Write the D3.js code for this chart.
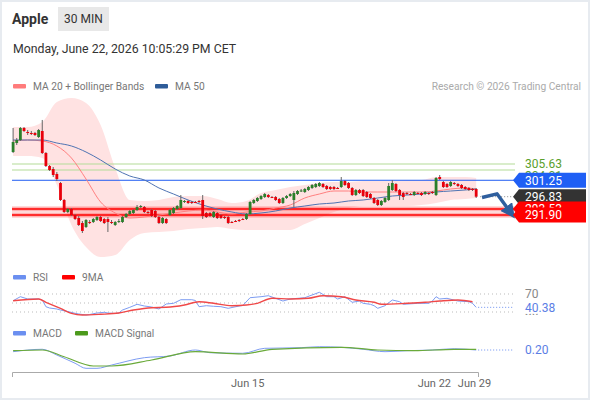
<!DOCTYPE html>
<html>
<head>
<meta charset="utf-8">
<script src="https://cdn.jsdelivr.net/npm/d3@7"></script>
<style>
  body { margin: 0; background: #fff; }
  text { font-family: Roboto, Arial, sans-serif; }
</style>
</head>
<body>
<svg id="chart" width="590" height="400"></svg>
<script>
// ---- data ----
// [open, high, low, close] per 30 min candle
const candles = [
  [308.86,315.32,308.59,311.55],[311.28,312.63,310.75,312.09],[312.09,315.59,311.82,315.32],[315.32,315.59,314.25,314.52],
  [314.25,314.78,313.44,313.98],[313.98,314.52,313.44,313.85],[313.98,314.25,313.17,313.44],[312.90,315.05,312.63,314.78],
  [314.52,317.48,308.32,308.59],[308.59,308.86,304.82,305.09],[305.09,305.36,303.75,304.01],[304.28,304.82,302.13,302.67],
  [302.94,303.48,301.05,301.59],[300.51,300.78,295.67,295.94],[295.94,296.21,292.44,292.71],[292.71,293.78,292.44,293.51],
  [293.51,293.78,291.63,291.90],[291.90,292.17,290.55,290.82],[291.09,291.63,288.94,289.21],[289.74,290.28,287.05,287.59],
  [288.67,290.82,288.40,290.55],[290.01,290.55,289.47,289.88],[290.01,291.09,289.74,290.82],[290.55,291.63,290.28,291.36],
  [291.36,291.63,290.01,290.28],[290.82,291.09,289.47,289.74],[290.82,291.36,287.32,290.01],[290.01,290.55,289.47,289.93],
  [289.21,290.28,288.94,290.01],[290.01,290.82,289.74,290.28],[290.01,291.63,289.74,291.36],[291.36,292.44,291.09,292.17],
  [292.17,293.24,291.90,292.98],[292.44,293.51,292.17,293.24],[293.24,294.59,292.98,294.05],[294.19,294.59,293.78,294.32],
  [294.05,294.32,292.44,292.71],[292.71,292.98,292.17,292.58],[293.24,293.51,291.36,291.63],[292.98,293.24,291.09,291.36],
  [291.36,291.63,289.47,289.74],[289.74,291.36,289.47,291.09],[290.82,291.09,289.47,289.74],[291.90,293.51,291.63,293.24],
  [292.44,294.05,292.17,293.78],[293.51,294.59,293.24,294.32],[293.78,297.28,293.51,295.94],[295.40,295.94,295.13,295.67],
  [295.67,295.94,294.86,295.13],[295.40,295.67,294.86,295.27],[295.40,295.67,295.13,295.30],[295.67,295.94,295.13,295.40],
  [295.94,297.28,290.82,291.63],[292.44,292.71,291.09,291.36],[292.44,292.71,291.36,291.63],[291.36,292.98,291.09,292.71],
  [292.44,292.71,290.82,291.09],[291.90,292.17,290.82,291.09],[291.36,291.63,290.82,291.09],[291.36,291.63,289.47,289.74],
  [290.01,290.28,289.74,289.88],[290.28,290.55,290.01,290.15],[290.55,290.82,290.01,290.42],[290.82,291.09,290.55,290.69],
  [290.82,292.44,290.55,292.17],[292.17,295.67,291.90,295.40],[295.13,296.21,294.86,295.94],[295.67,296.74,295.40,296.48],
  [296.21,297.28,295.94,297.01],[296.74,297.82,296.48,297.55],[297.28,297.55,296.48,296.74],[296.74,297.01,296.48,296.61],
  [296.74,297.01,295.67,295.94],[296.21,296.48,294.86,295.13],[295.13,296.74,294.86,296.48],[296.48,297.28,296.21,297.01],
  [297.01,297.82,296.74,297.55],[295.94,298.36,294.05,297.82],[297.55,298.63,297.28,298.36],[298.36,298.90,298.09,298.50],
  [298.09,299.17,297.82,298.90],[298.63,299.71,298.36,299.44],[299.17,300.24,298.90,299.98],[299.44,300.51,299.17,300.24],
  [299.71,300.78,299.44,300.51],[300.24,300.51,299.17,299.44],[299.71,299.98,298.63,298.90],[299.44,299.71,298.63,298.90],
  [299.44,299.71,298.63,298.90],[299.17,299.44,298.90,299.04],[299.44,302.13,299.17,301.05],[301.05,301.32,299.71,299.98],
  [300.51,300.78,298.90,299.17],[299.17,299.44,297.01,297.28],[297.28,298.90,297.01,298.63],[298.63,298.90,297.55,297.82],
  [298.63,298.90,296.74,297.01],[298.09,298.36,296.48,296.74],[297.55,297.82,296.21,296.48],[296.48,296.74,294.86,295.13],
  [295.94,296.21,294.32,294.59],[294.59,295.94,294.32,295.67],[295.40,296.74,295.13,296.48],[295.94,300.51,295.67,299.71],
  [298.63,301.32,298.36,300.51],[300.24,300.51,298.09,298.36],[298.63,298.90,295.94,297.28],[297.82,298.09,295.94,296.74],
  [297.82,298.09,297.28,297.69],[297.55,297.82,297.28,297.42],[297.28,298.36,297.01,298.09],[297.82,298.09,297.55,297.69],
  [297.82,298.09,297.01,297.28],[297.55,298.36,297.28,298.09],[297.82,298.09,297.28,297.69],[298.09,298.36,297.55,297.96],
  [297.28,302.13,297.01,301.86],[302.13,302.67,301.32,301.59],[300.78,301.05,299.17,299.44],[300.24,300.51,299.17,299.44],
  [299.71,301.05,299.44,300.78],[300.51,300.78,299.98,300.38],[300.24,300.51,299.44,299.71],[299.98,300.24,298.90,299.17],
  [299.44,299.71,298.63,298.90],[299.17,299.44,298.36,298.63],[298.90,299.17,298.36,298.63],[298.90,299.17,296.48,296.83]
];

// moving averages and bands, read every 4th candle
const maIdx   = [0,4,8,12,16,20,24,28,32,36,40,44,48,52,56,60,64,68,72,76,80,84,88,92,96,100,104,108,112,116,120,124,127];
const ma20    = [311.82,312.09,311.82,310.48,307.25,301.59,295.40,292.44,291.09,291.36,291.90,292.44,292.98,293.24,292.71,292.17,
                 292.71,292.98,293.78,294.59,296.48,297.55,298.36,298.36,298.09,298.09,298.09,298.09,298.09,298.36,298.90,299.17,298.90];
const ma50    = [312.09,312.09,312.09,311.28,310.48,308.86,306.71,304.28,302.40,301.32,299.17,297.55,295.94,294.59,293.51,292.71,
                 292.17,292.44,292.98,293.78,294.32,294.86,295.13,295.67,295.94,296.48,297.01,297.28,297.55,298.09,298.36,298.63,298.90];
const bbUpper = [315.59,315.59,316.94,322.32,323.40,322.05,316.13,304.55,295.94,295.67,295.94,296.74,297.01,297.01,296.21,295.13,
                 295.67,297.82,298.63,299.44,299.98,300.51,300.78,300.78,301.05,301.05,301.05,301.32,301.32,302.13,302.13,302.13,301.86];
const bbLower = [307.78,307.78,307.25,299.98,289.21,283.28,280.59,281.13,285.17,287.05,287.32,287.59,288.13,288.40,288.67,288.13,
                 287.86,287.86,287.86,287.86,289.47,291.09,292.71,293.78,294.32,294.32,294.32,294.32,294.59,295.13,295.94,296.21,296.48];

// key levels
const resistances = [305.63, 304.01];
const pivot = 301.25;
const lastPrice = 296.83;
const supports = [293.53, 291.90];
// projected path (candle index, price)
const projIdx = [128.6, 132.7, 136.2];
const projVal = [296.6, 297.6, 292.9];

// RSI and its 9 period average
const rsiIdx = [0,2,4,7,8,9,10,12,13,15,17,18,20,21,23,25,26,28,29,30,32,34,36,38,40,42,44,46,49,50,51,53,55,57,59,62,63,65,
                68,70,72,74,76,80,82,84,86,88,89,91,93,95,96,98,99,100,102,104,106,107,111,114,115,116,117,119,122,125,126,127];
const rsiVal = [55.1,64.0,58.9,58.9,56.7,41.8,38.9,36.7,34.4,31.1,27.1,25.6,23.3,24.4,27.8,29.3,27.8,26.7,27.8,34.4,40.4,47.1,43.3,
                41.1,36.7,47.8,49.3,57.3,57.3,55.6,41.8,44.0,42.7,41.8,38.2,43.3,44.4,61.8,64.0,66.2,60.4,54.4,58.9,61.8,67.8,73.8,
                64.0,64.0,58.9,64.0,51.6,54.4,49.3,47.1,44.0,38.2,44.0,56.7,52.9,47.1,49.3,49.3,54.4,64.0,58.9,60.4,54.4,52.9,49.3,40.38];
const rsiMaIdx = [0,7,9,13,16,19,24,29,33,38,42,47,51,55,60,64,67,71,76,81,85,90,94,99,101,108,113,117,122,126];
const rsiMaVal = [55.1,58.9,51.6,38.2,27.1,23.3,24.9,27.8,34.4,39.6,40.4,45.6,52.9,49.3,44.0,45.6,49.3,60.4,58.9,60.4,66.2,64.0,
                  56.7,51.6,47.1,49.3,51.6,54.4,56.7,52.9];
const rsiLevels = [70, 50, 30];

// MACD and signal
const macdIdx = [0,8,12,17,20,23,27,36,43,50,54,63,69,79,84,90,96,102,108,115,121,127];
const macdVal = [-0.01,0.29,-0.43,-1.46,-2.09,-2.09,-1.68,-0.76,-0.55,0.20,-0.14,-0.21,0.41,0.49,0.61,0.54,0.29,-0.01,0.11,0.20,0.36,0.20];
const signalIdx = [0,8,14,22,27,38,50,63,71,90,100,110,121,127];
const signalVal = [0.11,0.20,-0.64,-1.80,-1.80,-1.05,-0.01,-0.30,0.29,0.54,0.20,0.11,0.29,0.29];

const tickIdx = [64.2, 115.4, 126.4];
const tickLabels = ['Jun 15', 'Jun 22', 'Jun 29'];

// ---- drawing ----
const svg = d3.select('#chart');
svg.append('rect').attr('x', 1).attr('y', 1).attr('width', 588).attr('height', 398)
  .attr('fill', '#fff').attr('stroke', '#e7ebf0').attr('stroke-width', 2);

const x = d3.scaleLinear().domain([-0.3, 127.5]).range([12, 478]);
const yP = d3.scaleLinear().domain([291.90, 305.63]).range([215, 164]);
const yR = d3.scaleLinear().domain([30, 70]).range([312, 294]);
const yM = d3.scaleLinear().domain([-2.5, 1]).range([371.6, 343.6]);
const tagX = 513;

// header
svg.append('text').attr('x', 12).attr('y', 24).text('Apple')
  .attr('font-size', 14).attr('font-weight', 'bold').attr('fill', '#333');
svg.append('rect').attr('x', 58).attr('y', 7).attr('width', 51).attr('height', 24).attr('fill', '#e8e8e8');
svg.append('text').attr('x', 83.5).attr('y', 23).attr('text-anchor', 'middle').text('30 MIN')
  .attr('font-size', 12).attr('fill', '#333');
svg.append('text').attr('x', 13).attr('y', 53).text('Monday, June 22, 2026 10:05:29 PM CET')
  .attr('font-size', 12.3).attr('fill', '#333');

function legend(items, y) {
  items.forEach(it => {
    svg.append('rect').attr('x', it.x).attr('y', y - 6).attr('width', 13).attr('height', 4.5)
      .attr('rx', 1).attr('fill', it.color);
    svg.append('text').attr('x', it.x + 20).attr('y', y).text(it.label)
      .attr('font-size', 10.2).attr('fill', '#777');
  });
}
legend([{x: 13, color: '#ff7b7b', label: 'MA 20 + Bollinger Bands'},
        {x: 155, color: '#2e5c99', label: 'MA 50'}], 90);
svg.append('text').attr('x', 581).attr('y', 90).attr('text-anchor', 'end')
  .text('Research \u00a9 2026 Trading Central').attr('font-size', 10.2).attr('fill', '#aaa');

// bollinger band
const band = d3.area()
  .x((d, i) => x(maIdx[i]))
  .y0((d, i) => yP(bbLower[i]))
  .y1((d, i) => yP(bbUpper[i]))
  .curve(d3.curveMonotoneX);
svg.append('path').datum(maIdx).attr('d', band).attr('fill', '#ffe2e2');

// levels
const levelLine = (v, color, w) => svg.append('line')
  .attr('x1', x(-0.3)).attr('x2', tagX + 2).attr('y1', yP(v)).attr('y2', yP(v))
  .attr('stroke', color).attr('stroke-width', w);
resistances.forEach(v => levelLine(v, '#b3dc98', 1.2));
levelLine(pivot, '#1f5cf2', 1);
supports.forEach(v => { levelLine(v, 'rgba(255,0,0,0.3)', 5); levelLine(v, '#ff0000', 1.6); });

// moving averages
const maLine = arr => d3.line().x((d, i) => x(maIdx[i])).y((d, i) => yP(arr[i])).curve(d3.curveMonotoneX);
svg.append('path').datum(maIdx).attr('d', maLine(ma20)).attr('fill', 'none').attr('stroke', '#ff8080').attr('stroke-width', 1);
svg.append('path').datum(maIdx).attr('d', maLine(ma50)).attr('fill', 'none').attr('stroke', '#4f74b3').attr('stroke-width', 1);

// candles
const up = '#2b7f2b', down = '#e8000b';
const cg = svg.append('g');
cg.selectAll('line').data(candles).join('line')
  .attr('x1', (d, i) => x(i)).attr('x2', (d, i) => x(i))
  .attr('y1', d => yP(d[1])).attr('y2', d => yP(d[2]))
  .attr('stroke', '#666').attr('stroke-width', 1);
cg.selectAll('rect').data(candles).join('rect')
  .attr('x', (d, i) => x(i) - 1.4).attr('width', 2.8)
  .attr('y', d => yP(Math.max(d[0], d[3])))
  .attr('height', d => Math.max(1, Math.abs(yP(d[0]) - yP(d[3]))))
  .attr('fill', d => d[3] >= d[0] ? up : down);

// last price dotted line
svg.append('line').attr('x1', x(127) + 4).attr('x2', tagX).attr('y1', yP(lastPrice)).attr('y2', yP(lastPrice))
  .attr('stroke', '#888').attr('stroke-dasharray', '1,2');

// projection arrow
svg.append('defs').append('marker').attr('id', 'head').attr('viewBox', '0 0 10 10')
  .attr('refX', 4).attr('refY', 5).attr('markerWidth', 4.2).attr('markerHeight', 4.2)
  .attr('orient', 'auto').append('path').attr('d', 'M0,0 L10,5 L0,10 Z').attr('fill', '#2f5f9e');
svg.append('path').datum(projIdx)
  .attr('d', d3.line().x((d, i) => x(projIdx[i])).y((d, i) => yP(projVal[i])))
  .attr('fill', 'none').attr('stroke', '#2f5f9e').attr('stroke-width', 3.5)
  .attr('stroke-linejoin', 'round').attr('marker-end', 'url(#head)');

// price tags
function tag(v, fill, color, label, shift = 0) {
  const y = yP(v);
  if (fill) {
    svg.append('path').attr('d', `M${tagX},${y} L${tagX + 6},${y - 7.5} H586 V${y + 7.5} H${tagX + 6} Z`).attr('fill', fill);
  }
  svg.append('text').attr('x', 525).attr('y', y + shift).attr('dy', '0.36em').text(label)
    .attr('font-size', 12).attr('fill', color);
}
tag(resistances[1], null, '#5aa02c', resistances[1].toFixed(2), 6);
tag(resistances[0], null, '#5aa02c', resistances[0].toFixed(2));
tag(pivot, '#1f5ff5', '#fff', pivot.toFixed(2));
tag(lastPrice, '#333', '#fff', lastPrice.toFixed(2));
tag(supports[0], '#ff0000', '#fff', supports[0].toFixed(2));
tag(supports[1], '#ff0000', '#fff', supports[1].toFixed(2));

// ---- RSI panel ----
legend([{x: 13, color: '#6b8ff0', label: 'RSI'}, {x: 62, color: '#ff0000', label: '9MA'}], 281);
rsiLevels.forEach(v => svg.append('line')
  .attr('x1', x(-0.3)).attr('x2', tagX + 2).attr('y1', yR(v)).attr('y2', yR(v))
  .attr('stroke', '#bbb').attr('stroke-dasharray', '1,3'));
svg.append('path').datum(rsiIdx)
  .attr('d', d3.line().x((d, i) => x(rsiIdx[i])).y((d, i) => yR(rsiVal[i])))
  .attr('fill', 'none').attr('stroke', '#7d9cf2').attr('stroke-width', 1);
svg.append('path').datum(rsiMaIdx)
  .attr('d', d3.line().x((d, i) => x(rsiMaIdx[i])).y((d, i) => yR(rsiMaVal[i])).curve(d3.curveMonotoneX))
  .attr('fill', 'none').attr('stroke', '#f04848').attr('stroke-width', 1.4);
const rsiLast = rsiVal[rsiVal.length - 1];
svg.append('line').attr('x1', x(127) + 2).attr('x2', tagX).attr('y1', yR(rsiLast)).attr('y2', yR(rsiLast))
  .attr('stroke', '#6b8ff0').attr('stroke-dasharray', '1,2');
svg.append('clipPath').attr('id', 'rsiClip').append('rect').attr('x', 515).attr('y', 280).attr('width', 75).attr('height', 35);
svg.append('text').attr('x', 525).attr('y', yR(70)).attr('dy', '0.36em').text('70').attr('font-size', 12).attr('fill', '#888');
svg.append('text').attr('x', 525).attr('y', yR(30)).attr('dy', '0.36em').text('30').attr('font-size', 12).attr('fill', '#888')
  .attr('clip-path', 'url(#rsiClip)');
svg.append('rect').attr('x', 520).attr('y', yR(rsiLast) - 6.5).attr('width', 50).attr('height', 13).attr('fill', '#fff');
svg.append('text').attr('x', 525).attr('y', yR(rsiLast)).attr('dy', '0.36em').text(rsiLast.toFixed(2))
  .attr('font-size', 12).attr('fill', '#5b7ee5');

// ---- MACD panel ----
legend([{x: 13, color: '#6b8ff0', label: 'MACD'}, {x: 75, color: '#4c9a1c', label: 'MACD Signal'}], 337);
svg.append('path').datum(macdIdx)
  .attr('d', d3.line().x((d, i) => x(macdIdx[i])).y((d, i) => yM(macdVal[i])).curve(d3.curveMonotoneX))
  .attr('fill', 'none').attr('stroke', '#7d9cf2').attr('stroke-width', 1);
svg.append('path').datum(signalIdx)
  .attr('d', d3.line().x((d, i) => x(signalIdx[i])).y((d, i) => yM(signalVal[i])).curve(d3.curveMonotoneX))
  .attr('fill', 'none').attr('stroke', '#6aaa3a').attr('stroke-width', 1.2);
const macdLast = macdVal[macdVal.length - 1];
svg.append('line').attr('x1', x(127) + 2).attr('x2', tagX).attr('y1', yM(macdLast)).attr('y2', yM(macdLast))
  .attr('stroke', '#6b8ff0').attr('stroke-dasharray', '1,2');
svg.append('text').attr('x', 525).attr('y', yM(macdLast)).attr('dy', '0.36em').text(macdLast.toFixed(2))
  .attr('font-size', 12).attr('fill', '#5b7ee5');

// ---- time axis ----
const xAxis = d3.axisBottom(x).tickValues(tickIdx).tickFormat((d, i) => tickLabels[i])
  .tickSizeInner(0).tickSizeOuter(5).tickPadding(7);
const ax = svg.append('g').attr('transform', 'translate(0, 372)').call(xAxis);
ax.select('.domain').attr('stroke', '#aaa');
ax.selectAll('text').attr('font-size', 11).attr('fill', '#666').attr('font-family', 'Roboto, Arial, sans-serif');
</script>
</body>
</html>
